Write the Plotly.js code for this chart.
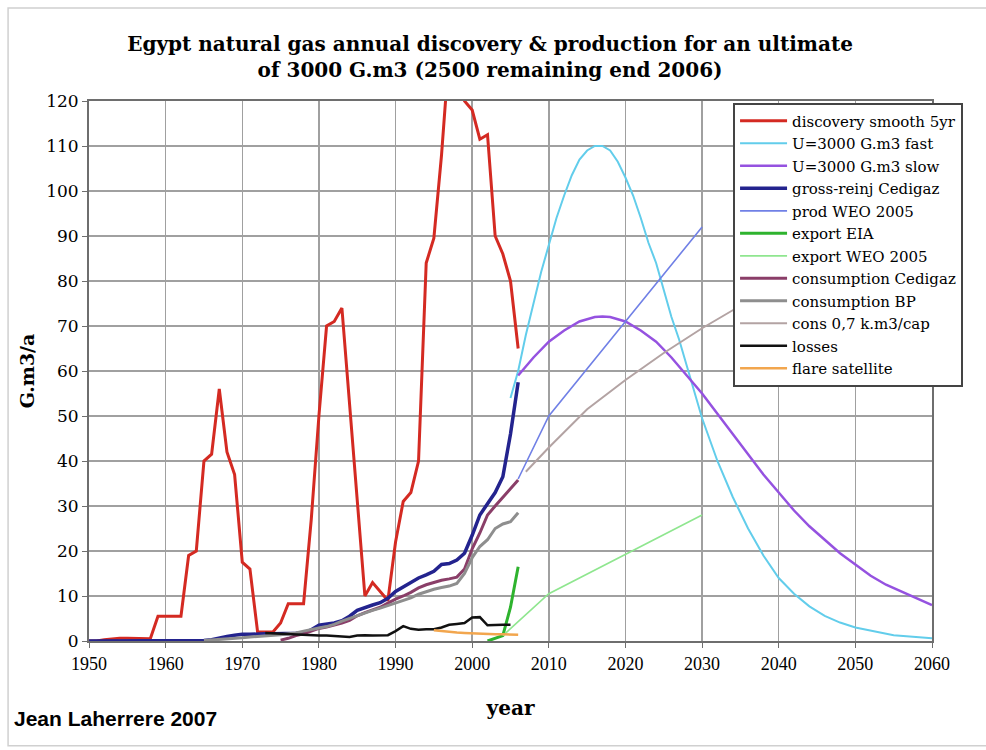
<!DOCTYPE html>
<html>
<head>
<meta charset="utf-8">
<script src="https://cdn.plot.ly/plotly-3.0.1.min.js"></script>
<style>
html,body{margin:0;padding:0;background:#fff;}
#chart{width:986px;height:750px;}
</style>
</head>
<body>
<div id="chart"></div>
<script>
// ---------- data ----------
const discYears = [1950,1951,1952,1953,1954,1955,1956,1957,1958,1959,
  1960,1961,1962,1963,1964,1965,1966,1967,1968,1969,
  1970,1971,1972,1973,1974,1975,1976,1977,1978,1979,
  1980,1981,1982,1983,1984,1985,1986,1987,1988,1989,
  1990,1991,1992,1993,1994,1995,1996,1997,1998,1999,
  2000,2001,2002,2003,2004,2005,2006];
const discValues = [0,0,0.3,0.5,0.6,0.6,0.6,0.6,0.5,5.5,
  5.5,5.5,5.5,19,20,40,41.5,56,42,37,
  17.5,16,2,2,2,4,8.3,8.3,8.3,27,
  50,70,71,74,52,31,10,13,11,9,
  22,31,33,40,84,89.5,108,131,125,120,
  118,111.5,112.5,90,86,80,65];

const fastYears = [2005,2006,2007,2008,2009,2010,2011,2012,2013,2014,2015,2016,2017,2018,2019,2020,
  2021,2022,2023,2024,2025,2026,2027,2028,2029,2030,2032,2034,2036,2038,2040,2042,2044,2046,2048,2050,2055,2060];
const fastValues = [54,60,68,75,82,88,94,99,103.5,107,109,110,110,109,106.5,103,
  99,94,88.5,84,78,72,67,61,55,49.5,40,32,25,19,14,10.5,7.7,5.6,4.1,3,1.3,0.6];

const slowYears = [2006,2008,2010,2012,2014,2016,2017,2018,2020,2022,2024,2026,2028,2030,
  2032,2034,2036,2038,2040,2042,2044,2046,2048,2050,2052,2054,2056,2058,2060];
const slowValues = [59,63,66.5,69,71,72,72.1,72,71,69,66.5,63,59,55,
  50.5,46,41.5,37,33,29,25.5,22.5,19.5,17,14.5,12.5,11,9.5,8];

const grossYears = [1950,1951,1952,1953,1954,1955,1956,1957,1958,1959,
  1960,1961,1962,1963,1964,1965,1966,1967,1968,1969,
  1970,1971,1972,1973,1974,1975,1976,1977,1978,1979,
  1980,1981,1982,1983,1984,1985,1986,1987,1988,1989,
  1990,1991,1992,1993,1994,1995,1996,1997,1998,1999,
  2000,2001,2002,2003,2004,2005,2006];
const grossValues = [0,0,0,0,0,0,0,0,0,0,
  0,0,0,0,0,0.1,0.3,0.7,1.0,1.3,
  1.5,1.5,1.6,1.6,1.6,1.6,1.7,1.7,1.8,2.5,
  3.5,3.8,4.0,4.5,5.5,6.8,7.5,8.0,8.5,9.5,
  11,12,13,14,14.7,15.5,17,17.2,18,19.5,
  23.5,28,30.5,33,36.5,46,57.5];

const prodWeoYears = [2006,2010,2020,2030];
const prodWeoValues = [36,50,71,92];

const exportEiaYears = [2002,2003,2004,2005,2006];
const exportEiaValues = [0,0.6,1.2,7.5,16.5];

const exportWeoYears = [2004,2010,2030];
const exportWeoValues = [1.2,10.5,28];

const consCedYears = [1975,1976,1977,1978,1979,1980,1981,1982,1983,1984,
  1985,1986,1987,1988,1989,1990,1991,1992,1993,1994,
  1995,1996,1997,1998,1999,2000,2001,2002,2003,2004,2005,2006];
const consCedValues = [0.2,0.6,1.2,1.6,2.2,2.8,3.1,3.5,4.0,4.6,
  5.6,6.3,6.9,7.5,8.4,9.3,10.0,10.8,11.8,12.5,
  13.0,13.5,13.8,14.2,16.0,20.5,24,28,30,32,34,35.8];

const consBpYears = [1965,1966,1967,1968,1969,1970,1971,1972,1973,1974,
  1975,1976,1977,1978,1979,1980,1981,1982,1983,1984,
  1985,1986,1987,1988,1989,1990,1991,1992,1993,1994,
  1995,1996,1997,1998,1999,2000,2001,2002,2003,2004,2005,2006];
const consBpValues = [0.1,0.2,0.3,0.4,0.5,0.7,0.9,1.0,1.2,1.3,
  1.4,1.6,1.8,2.2,2.6,2.9,3.2,3.7,4.4,5.0,
  5.7,6.2,6.8,7.3,7.9,8.4,9.0,9.6,10.4,11.0,
  11.5,11.9,12.2,12.8,15.0,18.5,21.0,22.5,25.0,26.0,26.5,28.5];

const consCapYears = [2007,2010,2015,2020,2025,2030,2035,2040,2050,2060];
const consCapValues = [37.6,43,51.5,58,64,69.5,74.5,79,87,94];

const lossYears = [1973,1974,1975,1976,1977,1978,1979,1980,1981,1982,
  1983,1984,1985,1986,1987,1988,1989,1990,1991,1992,
  1993,1994,1995,1996,1997,1998,1999,2000,2001,2002,2003,2004,2005];
const lossValues = [1.8,1.7,1.6,1.5,1.4,1.3,1.3,1.2,1.2,1.1,
  1.0,0.9,1.2,1.3,1.2,1.3,1.3,2.2,3.3,2.7,
  2.5,2.6,2.6,3.0,3.6,3.8,4.0,5.2,5.3,3.5,3.6,3.6,3.6];

const flareYears = [1995,1996,1997,1998,1999,2000,2001,2002,2003,2004,2005,2006];
const flareValues = [2.4,2.2,2.0,1.9,1.8,1.7,1.6,1.6,1.5,1.5,1.4,1.4];

const xTickVals = [1950,1960,1970,1980,1990,2000,2010,2020,2030,2040,2050,2060];
const yTickVals = [0,10,20,30,40,50,60,70,80,90,100,110,120];

// ---------- traces ----------
function line(name, x, y, color, width) {
  return {type:'scatter', mode:'lines', name:name, x:x, y:y,
          line:{color:color, width:width}, hoverinfo:'x+y+name'};
}
const traces = [
  line('discovery smooth 5yr', discYears, discValues, '#D42A22', 3),
  line('U=3000 G.m3 fast', fastYears, fastValues, '#62CDEB', 2),
  line('U=3000 G.m3 slow', slowYears, slowValues, '#9552E0', 2.5),
  line('gross-reinj Cedigaz', grossYears, grossValues, '#23238E', 3.5),
  line('prod WEO 2005', prodWeoYears, prodWeoValues, '#7080E6', 1.6),
  line('export EIA', exportEiaYears, exportEiaValues, '#2EB32E', 3),
  line('export WEO 2005', exportWeoYears, exportWeoValues, '#8FE68F', 1.6),
  line('consumption Cedigaz', consCedYears, consCedValues, '#8A3E68', 3),
  line('consumption BP', consBpYears, consBpValues, '#8E8E8E', 3),
  line('cons 0,7 k.m3/cap', consCapYears, consCapValues, '#B3A3A3', 2),
  line('losses', lossYears, lossValues, '#111111', 2.5),
  line('flare satellite', flareYears, flareValues, '#F2A64E', 2.5)
];

// ---------- layout ----------
const serif = 'Liberation Serif, Times New Roman, serif';
const wide = 'DejaVu Serif, serif';
const layout = {
  width: 986, height: 750,
  paper_bgcolor: '#ffffff', plot_bgcolor: '#ffffff',
  margin: {l: 89, r: 54, t: 101, b: 109, autoexpand: false},
  title: {
    text: 'Egypt natural gas annual discovery & production for an ultimate<br>of 3000 G.m3 (2500 remaining end 2006)',
    font: {family: wide, size: 20, color: '#000', weight: 'bold'},
    x: 0.497, xanchor: 'center', xref: 'container',
    y: 0.932, yanchor: 'top', yref: 'container'
  },
  xaxis: {
    range: [1950, 2060], tickvals: xTickVals, ticktext: xTickVals.map(String),
    showgrid: true, gridcolor: '#a0a0a0', gridwidth: 1.5,
    showline: true, mirror: true, linecolor: '#6e6e6e', linewidth: 2,
    ticks: 'outside', ticklen: 5, tickcolor: '#6e6e6e',
    tickfont: {family: serif, size: 18, color: '#000'},
    zeroline: false,
    title: {text: 'year', font: {family: wide, size: 20, color: '#000', weight: 'bold'}, standoff: 28}
  },
  yaxis: {
    range: [0, 120], tickvals: yTickVals, ticktext: yTickVals.map(String),
    showgrid: true, gridcolor: '#a0a0a0', gridwidth: 1.5,
    showline: true, mirror: true, linecolor: '#6e6e6e', linewidth: 2,
    ticks: 'outside', ticklen: 5, tickcolor: '#6e6e6e',
    tickfont: {family: wide, size: 17, color: '#000'},
    zeroline: false,
    title: {text: 'G.m3/a', font: {family: wide, size: 19, color: '#000', weight: 'bold'}, standoff: 6}
  },
  legend: {
    x: 0.764, xanchor: 'left', y: 0.997, yanchor: 'top',
    bgcolor: '#ffffff', bordercolor: '#444444', borderwidth: 2,
    font: {family: wide, size: 15, color: '#000'},
    tracegroupgap: 0, itemwidth: 47, entrywidth: 300, entrywidthmode: 'pixels'
  },
  showlegend: true,
  shapes: [{
    type: 'rect', xref: 'paper', yref: 'paper', layer: 'below',
    x0: -0.096, x1: 1.3, y0: -0.194, y1: 1.172,
    line: {color: '#d0d0d0', width: 1.5}, fillcolor: 'rgba(0,0,0,0)'
  }],
  annotations: [{
    text: 'Jean Laherrere 2007', xref: 'paper', yref: 'paper',
    x: -0.091, y: -0.143, xanchor: 'left', yanchor: 'middle', showarrow: false,
    font: {family: 'Liberation Sans Narrow, Arial Narrow, sans-serif', size: 21, color: '#000', weight: 'bold'}
  }]
};

Plotly.newPlot('chart', traces, layout, {displayModeBar: false, staticPlot: true});
</script>
</body>
</html>
